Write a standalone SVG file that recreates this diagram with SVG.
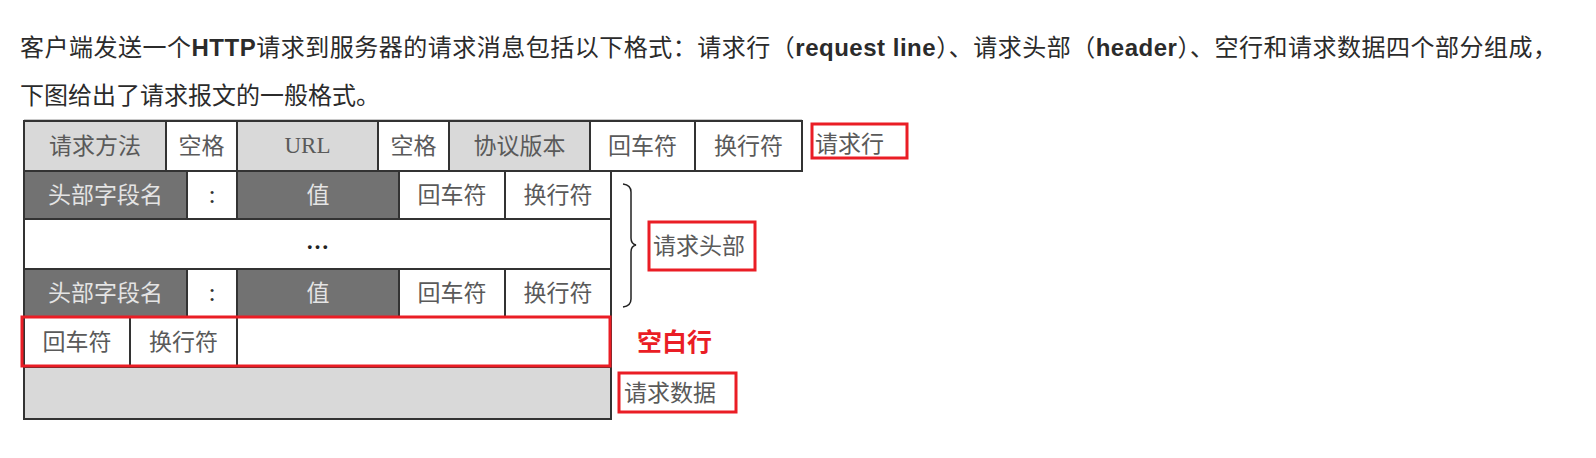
<svg xmlns="http://www.w3.org/2000/svg" width="1596" height="458" viewBox="0 0 1596 458">
<style>
.intro{font-family:"Liberation Sans","Noto Sans CJK SC",sans-serif;font-size:24px;fill:#2b2b2b}
.b{font-weight:bold}
.c{stroke:#333;stroke-width:2}
.lt{fill:#d9d9d9}
.dk{fill:#727272}
.wh{fill:#ffffff}
.t{font-family:"Liberation Serif","Noto Sans CJK SC",serif;font-size:23px;text-anchor:middle;fill:#5a5a5a}
.td{fill:#e4e4e4}
.red{fill:none;stroke:#ea1d25;stroke-width:3}
.lab{font-family:"Liberation Serif","Noto Sans CJK SC",serif;font-size:23px;fill:#5a5a5a}
</style>
<rect width="1596" height="458" fill="#fff"/>
<g id="intro">
<text class="intro" x="20" y="56" textLength="1537" lengthAdjust="spacing">客户端发送一个<tspan class="b">HTTP</tspan>请求到服务器的请求消息包括以下格式：请求行（<tspan class="b">request line</tspan>）、请求头部（<tspan class="b">header</tspan>）、空行和请求数据四个部分组成，</text>
<text class="intro" x="20" y="104">下图给出了请求报文的一般格式。</text>
</g>
<line x1="24" y1="119.5" x2="802" y2="119.5" stroke="#c8c8c8" stroke-width="1"/>
<g id="request-line">
<rect class="c lt" x="24" y="121" width="142" height="50"/>
<rect class="c wh" x="166" y="121" width="71" height="50"/>
<rect class="c lt" x="237" y="121" width="141" height="50"/>
<rect class="c wh" x="378" y="121" width="71" height="50"/>
<rect class="c lt" x="449" y="121" width="141" height="50"/>
<rect class="c wh" x="590" y="121" width="105" height="50"/>
<rect class="c wh" x="695" y="121" width="107" height="50"/>
<text class="t" x="95" y="154">请求方法</text>
<text class="t" x="201.5" y="154">空格</text>
<text class="t" x="307.5" y="153">URL</text>
<text class="t" x="413.5" y="154">空格</text>
<text class="t" x="519.5" y="154">协议版本</text>
<text class="t" x="642.5" y="154">回车符</text>
<text class="t" x="748.5" y="154">换行符</text>
</g>
<g id="header-1">
<rect class="c dk" x="24" y="171" width="163" height="48"/>
<rect class="c wh" x="187" y="171" width="50" height="48"/>
<rect class="c dk" x="237" y="171" width="162" height="48"/>
<rect class="c wh" x="399" y="171" width="106" height="48"/>
<rect class="c wh" x="505" y="171" width="106" height="48"/>
<text class="t td" x="105.5" y="203">头部字段名</text>
<text class="t" x="212" y="203" style="fill:#333;font-size:26px">:</text>
<text class="t td" x="318" y="203">值</text>
<text class="t" x="452" y="203">回车符</text>
<text class="t" x="558" y="203">换行符</text>
</g>
<g id="header-dots">
<rect class="c wh" x="24" y="219" width="587" height="50"/>
<text class="t" x="317.5" y="249" style="fill:#222;font-weight:bold">…</text>
</g>
<g id="header-2">
<rect class="c dk" x="24" y="269" width="163" height="48"/>
<rect class="c wh" x="187" y="269" width="50" height="48"/>
<rect class="c dk" x="237" y="269" width="162" height="48"/>
<rect class="c wh" x="399" y="269" width="106" height="48"/>
<rect class="c wh" x="505" y="269" width="106" height="48"/>
<text class="t td" x="105.5" y="301">头部字段名</text>
<text class="t" x="212" y="301" style="fill:#333;font-size:26px">:</text>
<text class="t td" x="318" y="301">值</text>
<text class="t" x="452" y="301">回车符</text>
<text class="t" x="558" y="301">换行符</text>
</g>
<g id="blank-line">
<rect class="c wh" x="24" y="317" width="106" height="50"/>
<rect class="c wh" x="130" y="317" width="107" height="50"/>
<rect class="c wh" x="237" y="317" width="374" height="50"/>
<text class="t" x="77" y="350">回车符</text>
<text class="t" x="183.5" y="350">换行符</text>
</g>
<g id="request-data">
<rect class="c lt" x="24" y="367" width="587" height="52"/>
</g>
<g id="brace">
<path d="M623,184 Q631,185 631,192 L631,238 Q631,244 636,245 Q631,246 631,252 L631,299 Q631,306 623,307" fill="none" stroke="#222" stroke-width="1.5"/>
</g>
<g id="label-request-line">
<rect class="red" x="812" y="124" width="95" height="34"/>
<text class="lab" x="815" y="152">请求行</text>
</g>
<g id="label-headers">
<rect class="red" x="649" y="222" width="106" height="48"/>
<text class="lab" x="653" y="254">请求头部</text>
</g>
<g id="label-blank">
<rect class="red" x="22" y="317" width="588" height="49"/>
<text x="637" y="351" style="font-family:'Noto Sans CJK SC',sans-serif;font-size:25px;font-weight:bold;fill:#ea1d25">空白行</text>
</g>
<g id="label-data">
<rect class="red" x="619" y="373" width="117" height="39"/>
<text class="lab" x="624" y="401">请求数据</text>
</g>
</svg>
